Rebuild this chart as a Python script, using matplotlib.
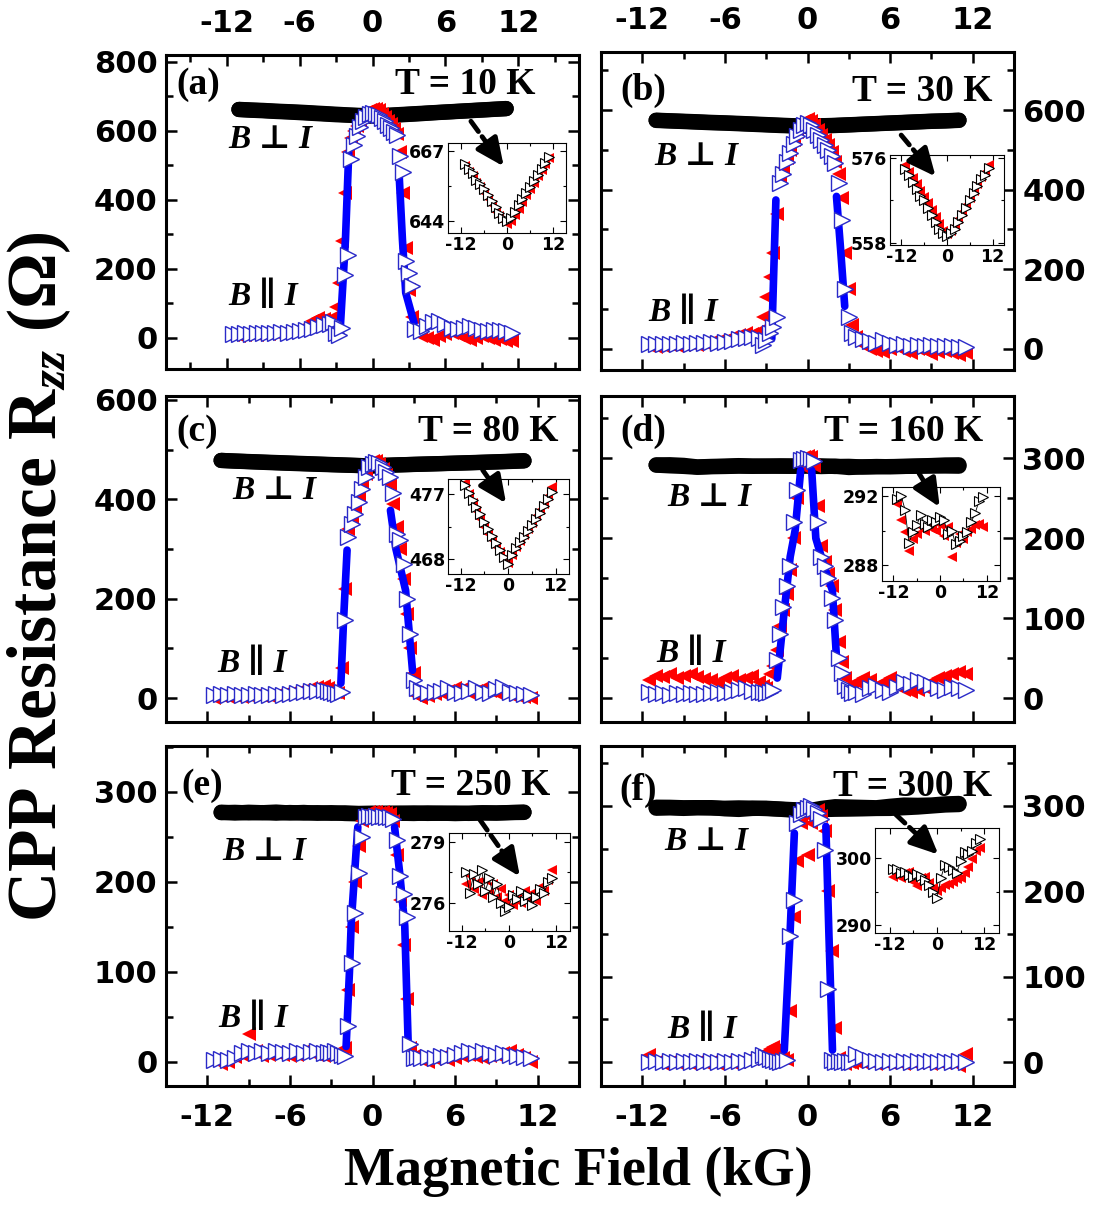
import matplotlib.pyplot as plt
from matplotlib.ticker import MultipleLocator, FixedLocator

plt.rcParams['font.family'] = ['DejaVu Sans']
plt.rcParams['font.weight'] = 'bold'
plt.rcParams['axes.unicode_minus'] = False
plt.rcParams['mathtext.fontset'] = 'custom'
plt.rcParams['mathtext.rm'] = 'Liberation Serif:bold'
plt.rcParams['mathtext.it'] = 'Liberation Serif:italic:bold'
plt.rcParams['mathtext.bf'] = 'Liberation Serif:bold'

NAN = float('nan')

# field values (kG)
field_perp = [-11, -10, -9, -8, -7, -6, -5, -4, -3, -2, -1, 0,
              1, 2, 3, 4, 5, 6, 7, 8, 9, 10, 11]
field_par = [-11.5, -11, -10.5, -10, -9.5, -9, -8.5, -8, -7.5, -7, -6.5, -6, -5.5, -5, -4.5, -4, -3.5,
             -3.25, -3, -2.75, -2.5, -2.25, -2, -1.75, -1.5, -1.25, -1, -0.75, -0.5, -0.25, 0,
             0.25, 0.5, 0.75, 1, 1.25, 1.5, 1.75, 2, 2.25, 2.5, 2.75, 3, 3.25,
             3.5, 4, 4.5, 5, 5.5, 6, 6.5, 7, 7.5, 8, 8.5, 9, 9.5, 10, 10.5, 11, 11.5]

# B perp I (Ohm): up sweep (black) and down sweep (red)
perp_up_a = [662.5, 660.8, 659.5, 657.5, 656, 654.5, 652.5, 650.5, 648.5, 646.5, 645, 644,
             645, 647, 649, 651, 653, 655, 657, 659, 661, 663, 665]
perp_dn_a = [662, 660, 658.5, 656.5, 655, 653, 651, 649, 647, 645.5, 644, 643,
             644, 646, 648, 650, 652.5, 654.5, 656.5, 658.5, 660.5, 662.5, 664.5]
perp_up_b = [573.8, 572.5, 571, 569.5, 568, 567, 565.5, 564, 562.5, 561, 560, 559.5,
             560, 561, 562.5, 564, 565.5, 567, 568.5, 570, 571.5, 572.5, 574]
perp_dn_b = [574.5, 573, 571.8, 570.5, 569, 567.8, 566.5, 565, 563.5, 562, 560.5, 559.8,
             560.5, 561.5, 563, 564.5, 566, 567.5, 569, 570.5, 572, 573, 574.5]
perp_up_c = [478.3, 477.2, 476.2, 475.2, 474.2, 473.2, 472.2, 471.2, 470.2, 469.2, 468.2, 467.3,
             468.5, 469.5, 470.3, 471.1, 471.9, 472.7, 473.5, 474.4, 475.3, 476.3, 477.3]
perp_dn_c = [478.5, 477, 475.8, 474.6, 473.5, 472.5, 471.5, 470.6, 469.7, 468.9, 468, 467.5,
             468.6, 469.6, 470.5, 471.3, 472.1, 473, 473.9, 474.8, 475.7, 476.7, 478]
perp_up_d = [291.8, 292.0, 291.2, 289.3, 289.9, 290.3, 290.9, 290.4, 290.2, 290.6, 290.5, 290.8,
             290.6, 289.8, 290.0, 289.2, 289.4, 289.7, 289.9, 290.5, 291.0, 291.7, 291.9]
perp_dn_d = [291.5, 290.6, 289.9, 288.8, 289.5, 289.8, 290.2, 290.0, 290.3, 290.1, 290.0, 290.3,
             289.7, 290.2, 288.5, 289.3, 289.8, 289.5, 289.9, 290.1, 290.3, 290.4, 290.2]
perp_up_e = [277.5, 276.5, 277.4, 276.9, 277.6, 276.6, 277.2, 276.3, 276.9, 276.0, 275.6, 275.8,
             276.4, 276.2, 276.6, 276.1, 276.4, 275.9, 276.3, 276.7, 276.5, 277.0, 277.2]
perp_dn_e = [276.9, 277.3, 276.7, 277.0, 276.4, 277.1, 276.5, 276.9, 276.3, 276.7, 276.1, 276.4,
             275.9, 276.3, 276.0, 276.6, 276.2, 276.5, 276.1, 276.8, 276.6, 277.1, 277.6]
perp_up_f = [298.4, 298.3, 297.8, 297.9, 297.5, 297.2, 297.6, 297.3, 296.8, 296.0, 294.9, 294.0,
             297.0, 299.0, 298.6, 298.2, 297.8, 299.5, 300.9, 300.6, 301.0, 302.3, 302.8]
perp_dn_f = [297.2, 297.6, 297.0, 297.8, 297.9, 296.5, 295.8, 297.0, 297.2, 296.3, 295.5, 295.1,
             295.6, 296.0, 296.2, 296.5, 296.9, 297.0, 297.8, 298.6, 299.8, 301.0, 301.5]

# B parallel I (Ohm): up sweep (open blue) and down sweep (red)
par_up_a = [12, 12, 13, 12, 13, 14, 13, 15, 16, 15, 17, 19, 22, 26, 32, 38, 40,
            45, 15, 8, 30, 183, 241, 520, 560, 585, 610, 628, 640, 648, 652,
            650, 645, 638, 628, 618, 608, 598, 588, 526, 480, 222, 188, 150,
            25, 20, 35, 45, 48, 40, 30, 25, 28, 35, 30, 22, 20, 22, 24, 20, 15]
par_dn_a = [8, 6, 8, 10, 9, 11, 12, 14, 15, 18, 20, 25, 35, 48, 58, 55, 50,
            60, 90, 160, 280, 420, 540, 580, 600, 615, 630, 645, 655, 662, 665,
            663, 660, 650, 640, 630, 620, 605, 590, 540, 420, 260, 140, 60,
            20, 5, 0, -5, 5, 10, 15, 8, 0, -5, 0, 5, 0, -5, -3, -8, -10]
par_up_b = [12, 12, 13, 12, 13, 14, 13, 14, 15, 16, 15, 18, 20, 24, 27, 30, 28,
            10, 22, 40, 56, 81, 416, 440, 470, 492, 515, 535, 550, 562, 568,
            562, 550, 538, 525, 512, 500, 485, 467, 416, 324, 150, 81, 39,
            30, 25, 20, 15, 22, 14, 10, 12, 8, 10, 6, 10, 8, 6, 8, 5, 4]
par_dn_b = [6, 5, 8, 10, 8, 10, 12, 10, 14, 18, 20, 22, 30, 35, 40, 38, 45,
            80, 130, 180, 240, 340, 430, 455, 480, 500, 525, 545, 560, 572, 577,
            572, 562, 550, 538, 525, 512, 495, 470, 440, 380, 240, 150, 60,
            30, 10, 0, -5, -8, 0, 5, -5, -10, 0, -5, -12, -8, -5, -10, -15, -10]
par_up_c = [6, 8, 6, 8, 7, 6, 8, 7, 6, 8, 7, 9, 10, 12, 14, 15, 16,
            14, 12, 10, 8, 12, 157, 325, 350, 370, 395, 420, 445, 465, 472,
            476, 474, 466, 455, 445, 412, 331, 318, 270, 200, 130, 36, 20,
            15, 10, 12, 15, 20, 12, 10, 14, 20, 12, 10, 18, 22, 12, 10, 8, 6]
par_dn_c = [0, 4, 2, 5, 3, 4, 6, 4, 5, 6, 8, 10, 12, 16, 20, 22, 24,
            20, 15, 12, 10, 60, 220, 340, 360, 382, 405, 430, 452, 470, 478,
            478, 472, 462, 450, 430, 390, 345, 300, 240, 170, 100, 50, 5,
            0, 5, 8, 10, 14, 20, 18, 10, 14, 20, 15, 10, 12, 6, 4, 2, 0]
par_up_d = [8, 5, 6, 4, 6, 5, 6, 5, 5, 6, 8, 6, 7, 10, 12, 9, 7,
            8, 6, 7, 10, 48, 80, 114, 140, 165, 220, 260, 298, 299, 300,
            299, 297, 220, 177, 165, 150, 125, 98, 50, 31, 15, 10, 6,
            8, 5, 12, 15, 10, 8, 14, 20, 18, 22, 20, 16, 12, 10, 14, 12, 10]
par_dn_d = [22, 28, 26, 30, 25, 28, 30, 26, 24, 22, 20, 25, 28, 22, 25, 28, 20,
            15, 12, 30, 40, 60, 90, 110, 130, 160, 200, 250, 290, 302, 303,
            302, 290, 240, 190, 170, 155, 140, 110, 70, 45, 25, 15, 10,
            20, 25, 22, 15, 20, 25, 15, 10, 8, 10, 12, 20, 25, 28, 30, 32, 30]
par_up_e = [2, 3, 2, 4, 10, 12, 10, 12, 10, 12, 11, 10, 12, 10, 11, 12, 10,
            11, 10, 12, 10, 8, 6, 40, 110, 165, 210, 250, 272, 273, 272,
            273, 272, 273, 272, 272, 270, 247, 206, 187, 161, 20, 4, 5,
            4, 5, 4, 6, 5, 8, 10, 12, 10, 12, 10, 8, 10, 8, 6, 5, 4]
par_dn_e = [2, -2, 0, 5, 8, 31, 12, 6, 8, 10, 8, 6, 8, 12, 10, 8, 6,
            8, 6, 8, 10, 12, 15, 80, 150, 200, 240, 268, 276, 278, 278,
            278, 277, 278, 277, 276, 268, 230, 180, 130, 70, 15, 6, 4,
            2, 0, 3, 5, 2, 4, 6, 8, 5, 4, 6, 8, 10, 12, 8, 4, 0]
par_up_f = [0, 1, 0, 1, 0, 1, 0, 1, 0, 1, 0, 1, 0, 1, 0, 2, 4,
            8, 6, 4, 2, 1, 0, 1, 3, 148, 190, 280, 290, 295, 298,
            300, 296, 292, 285, 248, 86, 2, 0, 1, 0, 1, 0, 0,
            10, 6, 2, 1, 0, 1, 0, 1, 0, 1, 0, 1, 0, 1, 0, 1, 0]
par_dn_f = [8, 0, -2, 0, -1, 0, -2, 0, -1, 0, -2, 0, -1, 0, 2, 4, 6,
            10, 12, 15, 18, 15, 10, 5, 2, 60, 170, 236, 280, 290, 243,
            280, 292, 295, 288, 270, 200, 130, 40, 5, 0, -2, 0, -1,
            0, -1, 0, -2, 0, -1, 0, -2, 0, -1, 0, -2, 0, -1, 0, -5, 10]

# steep parts (solid blue circles)
jump_b_a = [-2.65, -2.23, -1.96, NAN, 2.18, 2.46, 2.73, 3.42]
jump_r_a = [33, 285, 537, NAN, 479, 285, 131, 43]
jump_b_b = [-2.6, -2.45, -2.3, NAN, 2.1, 2.4, 2.7]
jump_r_b = [25, 200, 374, NAN, 383, 250, 107]
jump_b_c = [-2.3, -2.1, -1.85, NAN, 1.3, 1.7, 2.4, 2.9]
jump_r_c = [30, 160, 298, NAN, 378, 300, 217, 56]
jump_b_d = [-2.2, -1.75, -1.26, -0.9, -0.5, NAN, 0.3, 0.6, 1.2, 1.8, 2.1]
jump_r_d = [25, 100, 177, 210, 285, NAN, 285, 200, 165, 135, 51]
jump_b_e = [-1.92, -1.68, -1.55, -1.19, -1.07, NAN, 1.6, 1.97, 2.34, 2.58]
jump_r_e = [17, 99, 154, 235, 261, NAN, 261, 210, 151, 24]
jump_b_f = [-1.69, -1.3, -0.96, NAN, 1.33, 1.55, 1.81]
jump_r_f = [14, 140, 268, NAN, 276, 150, 14]

labels = ['(a)', '(b)', '(c)', '(d)', '(e)', '(f)']
temps = ['T = 10 K', 'T = 30 K', 'T = 80 K', 'T = 160 K', 'T = 250 K', 'T = 300 K']

panels = [
    dict(pos=[0.1519, 0.6943, 0.3779, 0.2601], xlim=(-17, 17), ylim=(-90, 820), ymaj=200,
         up=perp_up_a, dn=perp_dn_a, pu=par_up_a, pd=par_dn_a, jb=jump_b_a, jr=jump_r_a,
         side='left', top=True, bottom=False,
         tpos=(0.893, 0.905), lpos=(0.025, 0.905), perp=(0.15, 0.73), para=(0.15, 0.23),
         ipos=[0.4099, 0.8070, 0.1080, 0.0746], ixlim=(-15.4, 15.4), iylim=(640, 669.5),
         iyt=[644, 667], arrow=((8.1, 628), (10.8, 497))),
    dict(pos=[0.5499, 0.6935, 0.3779, 0.2635], xlim=(-15, 15), ylim=(-53, 746), ymaj=200,
         up=perp_up_b, dn=perp_dn_b, pu=par_up_b, pd=par_dn_b, jb=jump_b_b, jr=jump_r_b,
         side='right', top=True, bottom=False,
         tpos=(0.947, 0.875), lpos=(0.046, 0.88), perp=(0.13, 0.67), para=(0.114, 0.18),
         ipos=[0.8143, 0.7970, 0.1043, 0.0746], ixlim=(-15, 15), iylim=(557.5, 576.7),
         iyt=[558, 576], arrow=((6.8, 537), (9.3, 433))),
    dict(pos=[0.1519, 0.4018, 0.3779, 0.2701], xlim=(-15, 15), ylim=(-48, 608), ymaj=200,
         up=perp_up_c, dn=perp_dn_c, pu=par_up_c, pd=par_dn_c, jb=jump_b_c, jr=jump_r_c,
         side='left', top=False, bottom=False,
         tpos=(0.95, 0.89), lpos=(0.025, 0.89), perp=(0.16, 0.71), para=(0.125, 0.18),
         ipos=[0.4099, 0.5244, 0.1107, 0.0787], ixlim=(-15.2, 15.4), iylim=(465.9, 479.1),
         iyt=[468, 477], arrow=((8.0, 459), (9.7, 392))),
    dict(pos=[0.5499, 0.4018, 0.3779, 0.2701], xlim=(-15, 15), ylim=(-30, 378), ymaj=100,
         up=perp_up_d, dn=perp_dn_d, pu=par_up_d, pd=par_dn_d, jb=jump_b_d, jr=jump_r_d,
         side='right', top=False, bottom=False,
         tpos=(0.925, 0.89), lpos=(0.046, 0.89), perp=(0.16, 0.69), para=(0.135, 0.21),
         ipos=[0.8070, 0.5186, 0.1080, 0.0779], ixlim=(-14.9, 15.4), iylim=(287.1, 292.5),
         iyt=[288, 292], arrow=((8.1, 281), (9.6, 239))),
    dict(pos=[0.1519, 0.1002, 0.3779, 0.2817], xlim=(-15, 15), ylim=(-27, 351), ymaj=100,
         up=perp_up_e, dn=perp_dn_e, pu=par_up_e, pd=par_dn_e, jb=jump_b_e, jr=jump_r_e,
         side='left', top=False, bottom=True,
         tpos=(0.93, 0.885), lpos=(0.036, 0.885), perp=(0.136, 0.69), para=(0.127, 0.2),
         ipos=[0.4108, 0.2287, 0.1107, 0.0812], ixlim=(-15.3, 15.6), iylim=(274.6, 279.45),
         iyt=[276, 279], arrow=((7.8, 269), (10.7, 206))),
    dict(pos=[0.5499, 0.1002, 0.3779, 0.2817], xlim=(-15, 15), ylim=(-28, 370), ymaj=100,
         up=perp_up_f, dn=perp_dn_f, pu=par_up_f, pd=par_dn_f, jb=jump_b_f, jr=jump_r_f,
         side='right', top=False, bottom=True,
         tpos=(0.947, 0.88), lpos=(0.044, 0.87), perp=(0.152, 0.72), para=(0.16, 0.165),
         ipos=[0.8005, 0.2270, 0.1134, 0.0870], ixlim=(-15.7, 15.7), iylim=(288.8, 304.5),
         iyt=[290, 300], arrow=((6.4, 290), (9.5, 243))),
]

serif = ['Liberation Serif', 'DejaVu Serif', 'DejaVu Sans']

fig = plt.figure(figsize=(10.93, 12.07), dpi=100)

for i, p in enumerate(panels):
    ax = fig.add_axes(p['pos'])
    # B perp I: thick black band
    ax.plot(field_perp, p['dn'], '-', color='k', lw=11, solid_capstyle='round', zorder=2)
    ax.plot(field_perp, p['up'], '-', color='k', lw=11, solid_capstyle='round', zorder=2)
    # B par I
    ax.plot(field_par, p['pd'], '<', color='red', ms=10, mew=0, zorder=3)
    ax.plot(p['jb'], p['jr'], '-', color='#0000ff', lw=5.5, solid_capstyle='round', zorder=4)
    ax.plot(field_par, p['pu'], '>', ms=12, mfc='white', mec='#2a2ac8', mew=1, zorder=5)

    ax.set_xlim(*p['xlim'])
    ax.set_ylim(*p['ylim'])
    ax.xaxis.set_major_locator(MultipleLocator(6))
    ax.xaxis.set_minor_locator(MultipleLocator(3))
    ax.yaxis.set_major_locator(MultipleLocator(p['ymaj']))
    ax.yaxis.set_minor_locator(MultipleLocator(p['ymaj'] / 2))
    ax.tick_params(which='both', direction='in', top=True, right=True, width=1.8,
                   labelsize=22,
                   labelleft=p['side'] == 'left', labelright=p['side'] == 'right',
                   labeltop=p['top'], labelbottom=p['bottom'])
    ax.tick_params(axis='y', pad=6)
    ax.tick_params(axis='x', pad=12)
    ax.tick_params(which='major', length=8)
    ax.tick_params(which='minor', length=5)
    for s in ax.spines.values():
        s.set_linewidth(2.2)

    ax.text(*p['lpos'], labels[i], transform=ax.transAxes, family=serif, weight='bold',
            size=27, ha='left', va='center')
    ax.text(*p['tpos'], temps[i], transform=ax.transAxes, family=serif, weight='bold',
            size=27, ha='right', va='center')
    ax.text(*p['perp'], 'B \u22a5 I', transform=ax.transAxes, family=serif, weight='bold',
            style='italic', size=24, ha='left', va='center')
    ax.text(*p['para'], 'B \u2225 I', transform=ax.transAxes, family=serif, weight='bold',
            style='italic', size=24, ha='left', va='center')

    # inset: zoom of the B perp I data
    ins = fig.add_axes(p['ipos'])
    ins.plot(field_perp, p['dn'], '<', color='red', ms=6.5, mew=0, zorder=2)
    ins.plot(field_perp, p['up'], '->', color='k', lw=0.6, ms=6.5, mfc='white', mec='k',
             mew=0.8, zorder=3)
    ins.set_xlim(*p['ixlim'])
    ins.set_ylim(*p['iylim'])
    ins.set_xticks([-12, 0, 12])
    ins.xaxis.set_minor_locator(FixedLocator([-6, 6]))
    ins.set_yticks(p['iyt'])
    ins.yaxis.set_minor_locator(FixedLocator([sum(p['iyt']) / 2]))
    ins.tick_params(which='both', direction='in', top=True, right=True, width=0.8,
                    labelsize=12.5, pad=2)
    ins.tick_params(which='major', length=4)
    ins.tick_params(which='minor', length=2.5)
    for s in ins.spines.values():
        s.set_linewidth(0.8)

    # dashed arrow from the B perp I band to the inset
    tail, tip = p['arrow']
    mid = (tail[0] + 0.62 * (tip[0] - tail[0]), tail[1] + 0.62 * (tip[1] - tail[1]))
    ins.annotate('', xy=mid, xycoords=ax.transData, xytext=tail, textcoords=ax.transData,
                 arrowprops=dict(arrowstyle='-', lw=3.5, ls=(0, (2.6, 1.3)), color='k',
                                 shrinkA=0, shrinkB=0),
                 annotation_clip=False)
    ins.annotate('', xy=tip, xycoords=ax.transData, xytext=mid, textcoords=ax.transData,
                 arrowprops=dict(arrowstyle='-|>,head_length=1.2,head_width=0.55', lw=3.5,
                                 color='k', mutation_scale=14, shrinkA=0, shrinkB=0),
                 annotation_clip=False)

fig.text(0.529, 0.029, 'Magnetic Field (kG)', family=serif, weight='bold', size=39,
         ha='center', va='center')
fig.text(0.036, 0.522, 'CPP Resistance R$_{zz}$ (\u03a9)', family=serif, weight='bold',
         size=50, rotation=90, ha='center', va='center')

fig.savefig('out.png', dpi=100)
